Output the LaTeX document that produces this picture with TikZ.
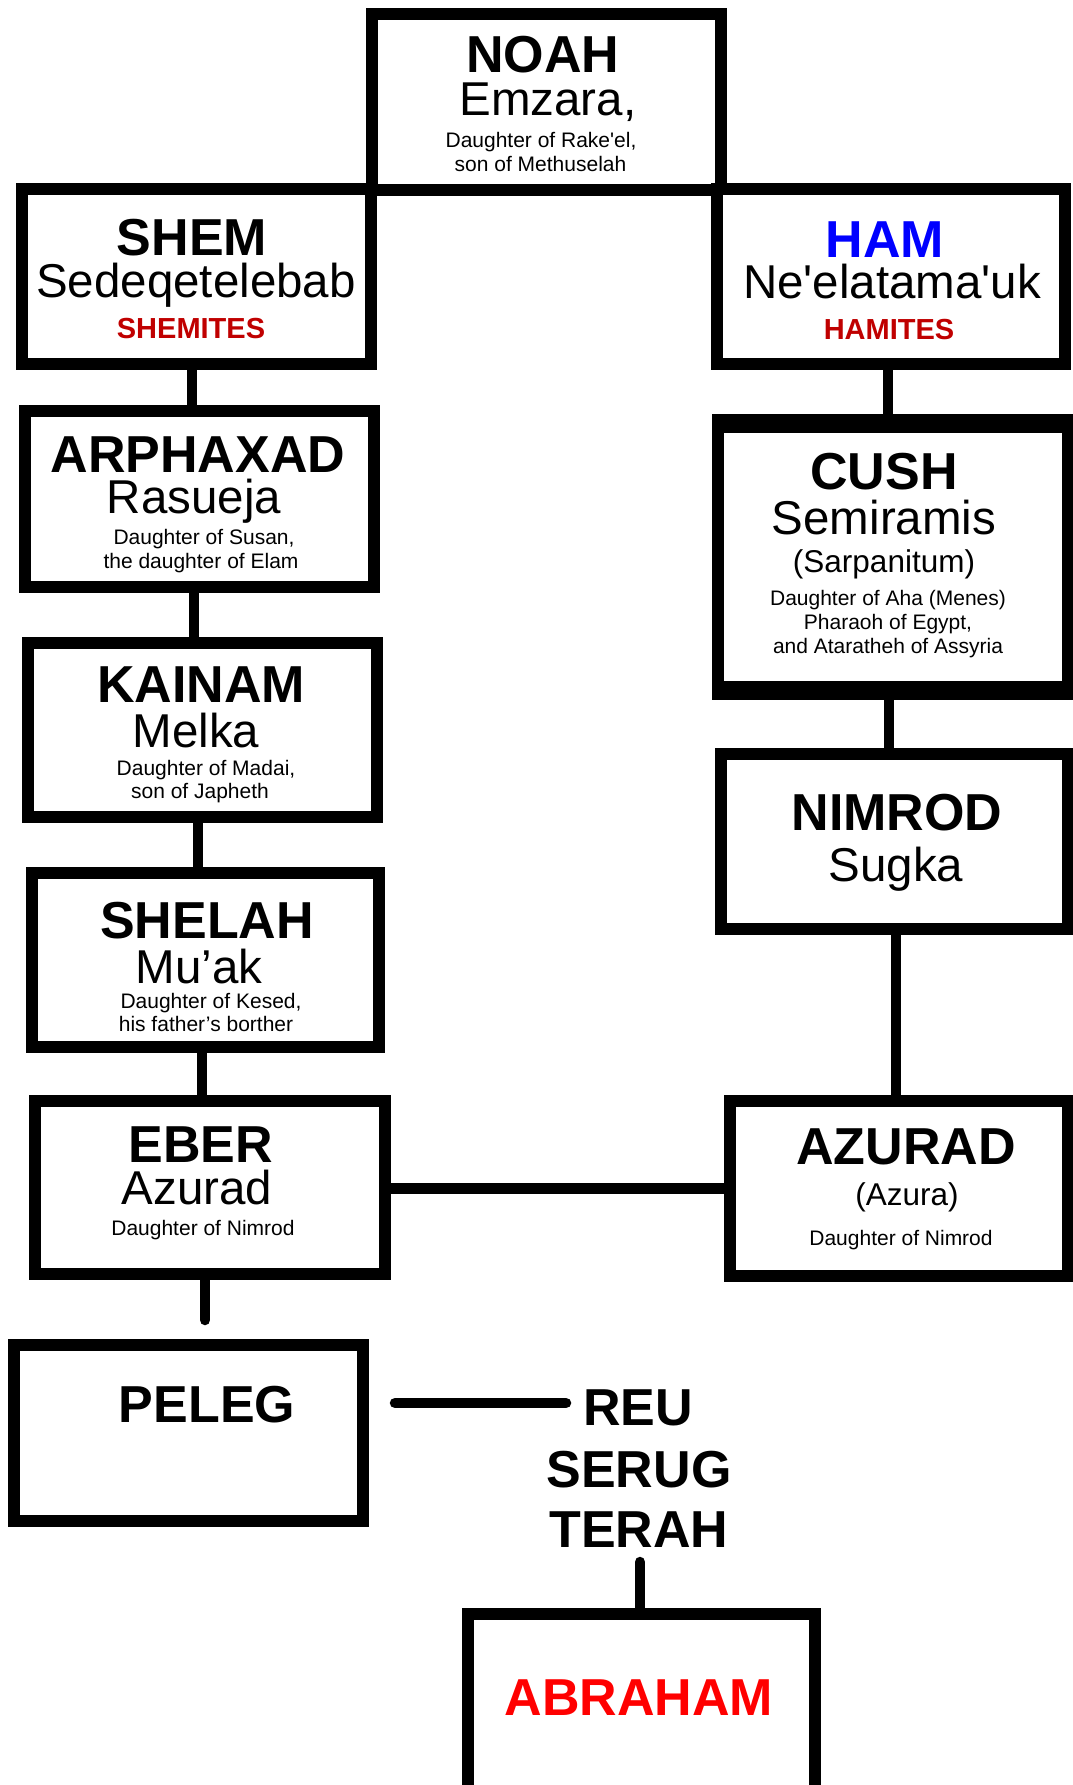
\documentclass[tikz,border=0pt]{standalone}
\usepackage{fontspec}
\newfontfamily\arial{Liberation Sans}
\definecolor{hamblue}{RGB}{0,0,255}
\definecolor{tribered}{RGB}{192,0,0}
\definecolor{abred}{RGB}{255,0,0}
\begin{document}
\begin{tikzpicture}[x=1pt,y=-1pt,
  box/.style={draw=black, fill=white, line width=12pt, inner sep=0pt, rectangle},
  conn/.style={line width=10.5pt, draw=black},
  nm/.style={anchor=base, inner sep=0pt, font=\arial\fontsize{52}{56}\selectfont\bfseries},
  wf/.style={anchor=base, inner sep=0pt, font=\arial\fontsize{47.5}{52}\selectfont},
  sm/.style={anchor=base, inner sep=0pt, font=\arial\fontsize{21}{24}\selectfont},
  pr/.style={anchor=base, inner sep=0pt, font=\arial\fontsize{31.5}{34}\selectfont},
  tr/.style={anchor=base, inner sep=0pt, font=\arial\fontsize{29}{32}\selectfont\bfseries, text=tribered},
]
\useasboundingbox (0,0) rectangle (1073,1785);
\clip (0,0) rectangle (1073,1785);

% boxes
\node[box, minimum width=349pt, minimum height=176pt] (noah) at (546.5,102) {};
\node[box, minimum width=349pt, minimum height=175pt] (shem) at (196.5,276.5) {};
\node[box, minimum width=348pt, minimum height=175pt] (ham) at (891,276.5) {};
\node[box, minimum width=349pt, minimum height=176pt] (arph) at (199.5,499) {};
\node[box, minimum width=349pt, minimum height=174pt] (kainam) at (202.5,730) {};
\node[box, minimum width=347pt, minimum height=174pt] (shelah) at (205.5,960) {};
\node[box, minimum width=350pt, minimum height=173pt] (eber) at (210,1187.5) {};
\node[box, minimum width=349pt, minimum height=176pt] (peleg) at (188.5,1433) {};
\node[box, minimum width=350pt, minimum height=274pt] (cush) at (893,557) {};
\fill (cush.north west) rectangle ([yshift=-19pt]cush.north east);
\fill ([yshift=19pt]cush.south west) rectangle (cush.south east);
\node[box, minimum width=347pt, minimum height=175pt] (nimrod) at (894.5,841.5) {};
\node[box, minimum width=338pt, minimum height=175pt] (azurad) at (899,1188.5) {};
\node[box, minimum width=347pt, minimum height=186pt] (abraham) at (641.5,1707) {};

% connectors
\draw[conn] ([xshift=-4.5pt]shem.south) -- ([xshift=-7.5pt]arph.north);
\draw[conn] ([xshift=-5.5pt]arph.south) -- ([xshift=-8.5pt]kainam.north);
\draw[conn] ([xshift=-4.5pt]kainam.south) -- ([xshift=-7.5pt]shelah.north);
\draw[conn] ([xshift=-3.5pt]shelah.south) -- ([xshift=-8pt]eber.north);
\coordinate (eberend) at (205,1320);
\draw[conn, line cap=round] ([xshift=-5pt]eber.south) -- (eberend);
\draw[conn] ([xshift=-3pt]ham.south) -- ([xshift=-5pt]cush.north);
\draw[conn] ([xshift=-4pt]cush.south) -- ([xshift=-5.5pt]nimrod.north);
\draw[conn] ([xshift=1.5pt]nimrod.south) -- ([xshift=-3pt]azurad.north);
\draw[conn] ([yshift=-1pt]eber.east) -- (azurad.west);
\coordinate (pelegline) at (395,1403);
\coordinate (reuline) at (566,1403);
\draw[conn, line cap=round] (pelegline) -- (reuline);
\coordinate (terahend) at (640,1562);
\draw[conn, line cap=round] (terahend) -- ([xshift=-1.5pt]abraham.north);

% NOAH
\node[nm] (noah-n) at (543,72) {NOAH};
\node[wf] (noah-w) at (548,115) {Emzara,};
\node[sm] (noah-d1) at (541,147) {Daughter of Rake'el,};
\node[sm] (noah-d2) at (540.5,171) {son of Methuselah};
% SHEM
\node[nm] (shem-n) at (192,255) {SHEM};
\node[wf] (shem-w) at (196,297) {Sedeqetelebab};
\node[tr] (shem-t) at (191,338) {SHEMITES};
% HAM
\node[nm, text=hamblue] (ham-n) at (885,257) {HAM};
\node[wf] (ham-w) at (892,298) {Ne'elatama'uk};
\node[tr] (ham-t) at (889,339) {HAMITES};
% ARPHAXAD
\node[nm] (arph-n) at (198,472) {ARPHAXAD};
\node[wf] (arph-w) at (194,513) {Rasueja};
\node[sm] (arph-d1) at (204,544) {Daughter of Susan,};
\node[sm] (arph-d2) at (201,568) {the daughter of Elam};
% KAINAM
\node[nm] (kainam-n) at (201,702) {KAINAM};
\node[wf] (kainam-w) at (196,747) {Melka};
\node[sm] (kainam-d1) at (206,775) {Daughter of Madai,};
\node[sm] (kainam-d2) at (200,798) {son of Japheth};
% SHELAH
\node[nm] (shelah-n) at (207,938) {SHELAH};
\node[wf] (shelah-w) at (199,983) {Mu’ak};
\node[sm] (shelah-d1) at (211,1008) {Daughter of Kesed,};
\node[sm] (shelah-d2) at (206,1031) {his father’s borther};
% EBER
\node[nm] (eber-n) at (201,1162) {EBER};
\node[wf] (eber-w) at (197,1204) {Azurad};
\node[sm] (eber-d1) at (203,1235) {Daughter of Nimrod};
% CUSH
\node[nm] (cush-n) at (884,489) {CUSH};
\node[wf] (cush-w) at (884,534) {Semiramis};
\node[pr] (cush-p) at (884,572) {(Sarpanitum)};
\node[sm] (cush-d1) at (888,605) {Daughter of Aha (Menes)};
\node[sm] (cush-d2) at (888,629) {Pharaoh of Egypt,};
\node[sm] (cush-d3) at (888,653) {and Ataratheh of Assyria};
% NIMROD
\node[nm] (nimrod-n) at (897,830) {NIMROD};
\node[wf] (nimrod-w) at (896,881) {Sugka};
% AZURAD
\node[nm] (azurad-n) at (906,1164) {AZURAD};
\node[pr] (azurad-p) at (907,1205) {(Azura)};
\node[sm] (azurad-d1) at (901,1245) {Daughter of Nimrod};
% PELEG and after
\node[nm] (peleg-n) at (207,1422) {PELEG};
\node[nm] (reu) at (638,1425) {REU};
\node[nm] (serug) at (639,1487) {SERUG};
\node[nm] (terah) at (639,1547) {TERAH};
\node[nm, text=abred] (abraham-n) at (639,1715) {ABRAHAM};
\end{tikzpicture}
\end{document}
